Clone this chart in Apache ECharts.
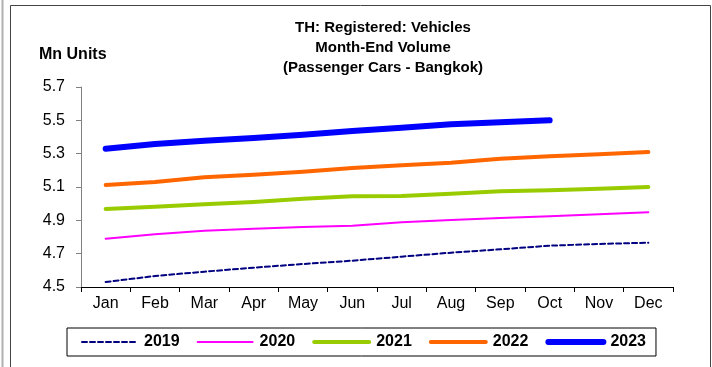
<!DOCTYPE html>
<html>
<head>
<meta charset="utf-8">
<script src="https://cdn.jsdelivr.net/npm/echarts@6/dist/echarts.min.js"></script>
<style>
  html, body { margin: 0; padding: 0; background: #ffffff; }
  #chart { width: 712px; height: 367px; }
</style>
</head>
<body>
<div id="chart"></div>
<script>
// Month-end registered passenger cars in Bangkok, millions of units
const months = ['Jan', 'Feb', 'Mar', 'Apr', 'May', 'Jun', 'Jul', 'Aug', 'Sep', 'Oct', 'Nov', 'Dec'];
const y2019 = [4.530, 4.566, 4.592, 4.616, 4.638, 4.658, 4.682, 4.706, 4.726, 4.748, 4.758, 4.766];
const y2020 = [4.790, 4.816, 4.838, 4.850, 4.860, 4.868, 4.888, 4.902, 4.914, 4.924, 4.936, 4.948];
const y2021 = [4.968, 4.982, 4.996, 5.010, 5.030, 5.044, 5.046, 5.060, 5.074, 5.080, 5.090, 5.100];
const y2022 = [5.112, 5.130, 5.158, 5.174, 5.192, 5.214, 5.230, 5.246, 5.270, 5.284, 5.296, 5.310];
const y2023 = [5.330, 5.358, 5.378, 5.394, 5.414, 5.436, 5.456, 5.476, 5.488, 5.500];
const yTicks = { min: 4.5, max: 5.7, step: 0.2 };

const FONT = 'Liberation Sans, Arial, sans-serif';

function lineSeries(name, data, color, width, type) {
  return {
    name: name,
    type: 'line',
    data: data,
    showSymbol: false,
    symbol: 'none',
    smooth: false,
    color: color,
    lineStyle: { color: color, width: width, type: type || 'solid', cap: 'round', join: 'round' },
    emphasis: { disabled: true }
  };
}

const chart = echarts.init(document.getElementById('chart'), null, { renderer: 'canvas' });
chart.setOption({
  animation: false,
  backgroundColor: '#ffffff',
  title: {
    text: 'TH: Registered: Vehicles\nMonth-End Volume\n(Passenger Cars - Bangkok)',
    left: 378,
    top: 13,
    textAlign: 'center',
    textStyle: { fontFamily: FONT, fontSize: 15, fontWeight: 'bold', color: '#000', lineHeight: 20 }
  },
  grid: { left: 81, right: 39, top: 87, bottom: 80, containLabel: false },
  xAxis: {
    type: 'category',
    data: months,
    boundaryGap: true,
    axisLine: { lineStyle: { color: '#000', width: 1 } },
    axisTick: { show: true, alignWithLabel: false, length: 5, inside: false, lineStyle: { color: '#000' } },
    axisLabel: { fontFamily: FONT, fontSize: 16, color: '#000', margin: 9, interval: 0 },
    splitLine: { show: false }
  },
  yAxis: {
    type: 'value',
    min: yTicks.min,
    max: yTicks.max,
    interval: yTicks.step,
    axisLine: { show: true, lineStyle: { color: '#808080', width: 1 } },
    axisTick: { show: true, length: 5, lineStyle: { color: '#808080' } },
    axisLabel: {
      fontFamily: FONT, fontSize: 16, color: '#000', margin: 16,
      formatter: v => v.toFixed(1)
    },
    splitLine: { show: false }
  },
  legend: {
    left: 67,
    top: 328,
    width: 583,
    padding: [6, 10, 6, 14],
    borderColor: '#000',
    borderWidth: 1,
    itemWidth: 55,
    itemHeight: 14,
    itemGap: 17,
    itemStyle: { opacity: 0 },
    lineStyle: { width: 'inherit' },
    textStyle: { fontFamily: FONT, fontSize: 16, fontWeight: 'bold', color: '#000', padding: [0, 0, 0, 2] },
    data: ['2019', '2020', '2021', '2022', '2023']
  },
  graphic: [
    { type: 'rect', silent: true, shape: { x: 10.5, y: 5.5, width: 700, height: 400 },
      style: { fill: 'none', stroke: '#444', lineWidth: 1 } },
    { type: 'line', silent: true, shape: { x1: 2.5, y1: 0, x2: 2.5, y2: 367 },
      style: { stroke: '#b0b0b0', lineWidth: 2 } },
    { type: 'text', silent: true, left: 39, top: 47,
      style: { text: 'Mn Units', font: 'bold 16px ' + FONT, fill: '#000' } }
  ],
  series: [
    lineSeries('2019', y2019, '#000080', 2, [5, 3]),
    lineSeries('2020', y2020, '#ff00ff', 2),
    lineSeries('2021', y2021, '#99cc00', 4),
    lineSeries('2022', y2022, '#ff6600', 4),
    lineSeries('2023', y2023, '#0000ff', 6)
  ]
});
</script>
</body>
</html>
